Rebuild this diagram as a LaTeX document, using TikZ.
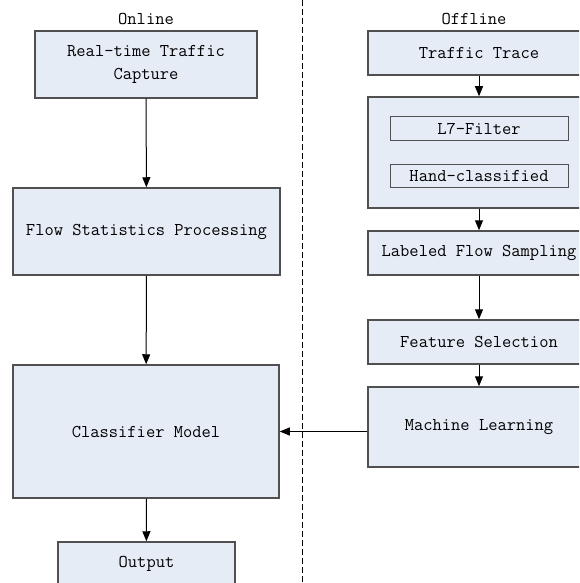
\documentclass[tikz,border=0pt]{standalone}
\usepackage{fontspec}
\usetikzlibrary{arrows.meta}
\definecolor{boxfill}{HTML}{E6ECF6}
\definecolor{boxline}{HTML}{505050}
\begin{document}
\begin{tikzpicture}[x=1pt,y=-1pt,
  every node/.style={font=\ttfamily\fontsize{18}{23}\selectfont},
  block/.style={draw=boxline,fill=boxfill,line width=1.5pt,inner sep=0pt,align=center},
  subblock/.style={draw=boxline,fill=boxfill,line width=1pt,inner sep=0pt,
    minimum width=178,minimum height=23},
  link/.style={-{Triangle[length=10pt,width=8pt]},line width=1pt}]
  \useasboundingbox (0,0) rectangle (579,583);
  \clip (0,0) rectangle (579,583);
  % online side
  \node (online) at (146,19) {Online};
  \node[block,minimum width=222,minimum height=67] (capture) at (146,64.5)
    {Real-time Traffic\\Capture};
  \node[block,minimum width=267,minimum height=87] (flowstat) at (146.5,231.5)
    {Flow Statistics Processing};
  \node[block,minimum width=266,minimum height=133] (classifier) at (146,431.5)
    {Classifier Model};
  \node[block,minimum width=177,minimum height=44] (output) at (146.5,564) {Output};
  % divider
  \coordinate (divtop) at (302,0);
  \coordinate (divbot) at (302,583);
  \draw[line width=1pt,dash pattern=on 6pt off 3pt] (divtop) -- (divbot);
  % offline side
  \node (offline) at (474,19) {Offline};
  \node[block,minimum width=222,minimum height=44] (trace) at (479,53) {Traffic Trace};
  \node[block,minimum width=222,minimum height=111] (labeling) at (479,152.5) {};
  \node[subblock] (l7filter) at (479,128.5) {L7-Filter};
  \node[subblock] (handcls) at (479,176) {Hand-classified};
  \node[block,minimum width=222,minimum height=44] (sampling) at (479,253)
    {Labeled Flow Sampling};
  \node[block,minimum width=222,minimum height=44] (featsel) at (479,342)
    {Feature Selection};
  \node[block,minimum width=222,minimum height=80] (mlearn) at (479,427)
    {Machine Learning};
  % connectors
  \draw[link] (capture) -- (flowstat);
  \draw[link] (flowstat) -- (classifier);
  \draw[link] (classifier) -- (output);
  \draw[link] (trace) -- (labeling);
  \draw[link] (labeling) -- (sampling);
  \draw[link] (sampling) -- (featsel);
  \draw[link] (featsel) -- (mlearn);
  \draw[link] (mlearn.west |- classifier.east) -- (classifier.east);
\end{tikzpicture}
\end{document}
